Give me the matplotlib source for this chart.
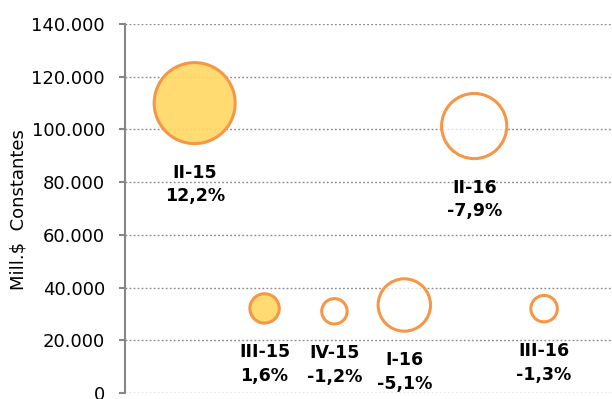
import numpy as np
import matplotlib
matplotlib.use("Agg")
import matplotlib.pyplot as plt
from matplotlib.ticker import FuncFormatter

# quarters, amount (Mill.$ constantes) and growth rate (%) -> bubble size = |growth|
quarters = ["II-15", "III-15", "IV-15", "I-16", "II-16", "III-16"]
amounts = [110000, 32100, 31000, 33400, 101300, 32000]
growth = [12.2, 1.6, -1.2, -5.1, -7.9, -1.3]

plt.rcParams["font.family"] = ["DejaVu Sans"]

ORANGE = "#F79646"
GRAY = "#878787"

fig = plt.figure(figsize=(6.12, 3.99), dpi=100)
ax = fig.add_axes([0.2039, 0.015, 0.7993, 0.9248])

xs = np.arange(1, len(quarters) + 1)
g = np.array(growth)
size_scale = 278.7
lw = 2.2
sizes = size_scale * np.abs(g)
faces = [(1, 0.851, 0.4, 0.93) if v > 0 else (1, 1, 1, 0.7) for v in g]

ax.scatter(xs, amounts, s=sizes, facecolors=faces, edgecolors=ORANGE,
           linewidths=lw, zorder=3, clip_on=False)

for x, y, q, v, s in zip(xs, amounts, quarters, growth, sizes):
    r_pt = np.sqrt(s) / 2 + lw / 2
    txt = "%s\n%s%%" % (q, ("%.1f" % v).replace(".", ","))
    ax.annotate(txt, xy=(x, y), xytext=(0, -(r_pt + 13.5)),
                textcoords="offset points", ha="center", va="top",
                fontsize=12.5, fontweight="bold", linespacing=1.4,
                annotation_clip=False)

ax.set_xlim(0, 7)
ax.set_ylim(0, 140000)
ax.set_yticks(np.arange(0, 140001, 20000))
ax.yaxis.set_major_formatter(FuncFormatter(lambda v, p: "{:,.0f}".format(v).replace(",", ".")))
ax.set_xticks([])

ax.grid(axis="y", color="#8c8c8c", linewidth=1.0, linestyle=(0, (1.3, 1.6)), zorder=0)
ax.set_axisbelow(True)
for sp in ["top", "right", "bottom"]:
    ax.spines[sp].set_visible(False)
ax.spines["left"].set_color(GRAY)
ax.spines["left"].set_linewidth(1.5)
ax.tick_params(axis="y", length=4.3, width=1.5, color=GRAY, pad=10,
               labelsize=13, labelcolor="black")

fig.text(0.031, 1 - 210 / 399, "Mill.$  Constantes", rotation=90,
         ha="center", va="center", fontsize=13)

fig.savefig("out.png", dpi=100)
